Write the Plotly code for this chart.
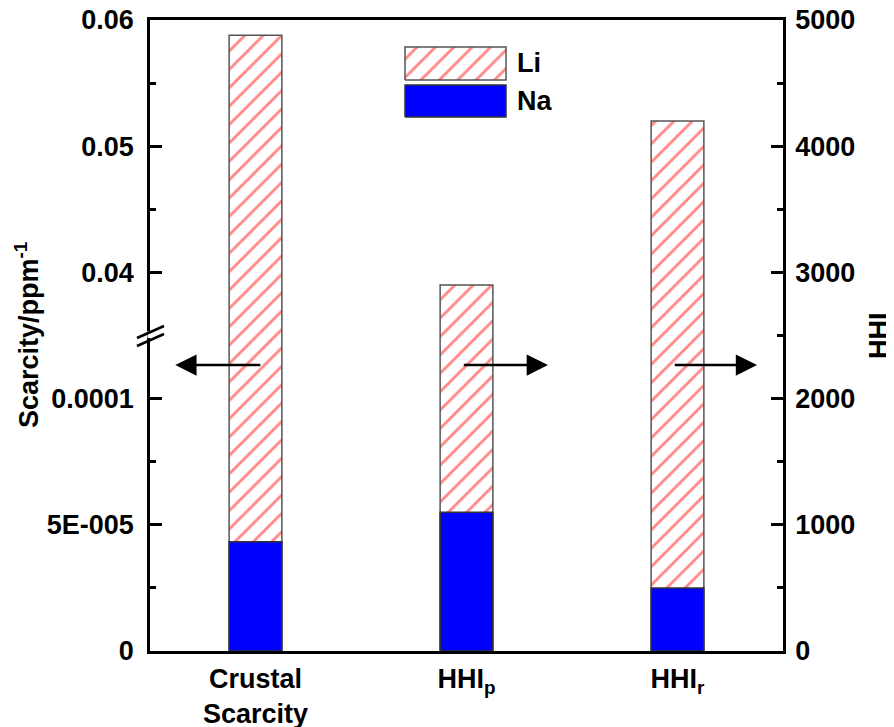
import plotly.graph_objects as go

categories = ["Crustal<br>Scarcity", "HHI<sub>p</sub>", "HHI<sub>r</sub>"]
# Crustal scarcity in ppm^-1 (left axis), HHI values (right axis)
li_values = [0.0588, 2900, 4200]
na_values = [4.33e-5, 1100, 500]

left_tick_vals = [0, 5e-5, 1e-4, 0.04, 0.05, 0.06]
left_tick_text = ["0", "5E-005", "0.0001", "0.04", "0.05", "0.06"]
right_tick_vals = [0, 1000, 2000, 3000, 4000, 5000]

FONT = "Arial, Liberation Sans, sans-serif"
FS = 27

W, H = 894, 727
OFF = 8  # page body margin offset
# plot area in screen pixels
L, R, T, B = 150, 783, 20, 651


def left_to_hhi(v):
    """Map the broken left scarcity axis onto the shared 0-5000 scale."""
    if v <= 1e-4:
        return v / 1e-4 * 2000
    return 3000 + (v - 0.04) / 0.01 * 1000


def shared(values):
    return [left_to_hhi(values[0])] + list(values[1:])


def px2paper(px, py):
    return (px - L) / (R - L), (B - py) / (B - T)


x = list(range(len(categories)))
li_y = shared(li_values)
na_y = shared(na_values)

HATCH = dict(shape="/", fgcolor="#ff1010", bgcolor="white", size=13, solidity=0.22)

fig = go.Figure()
fig.add_trace(go.Bar(
    x=x, y=li_y, width=0.25, name="Li",
    marker=dict(color="white", line=dict(color="#555555", width=1.5),
                pattern=dict(HATCH, fillmode="overlay")),
    showlegend=False,
))
fig.add_trace(go.Bar(
    x=x, y=na_y, width=0.25, name="Na",
    marker=dict(color="#0000ff", line=dict(color="#333333", width=1.5)),
    showlegend=False,
))

# legend patches on an overlay axis in plot-fraction units
lx0, ly_li1 = px2paper(405, 47)
lx1, ly_li0 = px2paper(506, 80)
_, ly_na1 = px2paper(405, 85)
_, ly_na0 = px2paper(405, 117)
fig.add_trace(go.Scatter(
    x=[lx0, lx1, lx1, lx0, lx0], y=[ly_li0, ly_li0, ly_li1, ly_li1, ly_li0],
    xaxis="x2", yaxis="y3", mode="lines", fill="toself",
    fillcolor="white", line=dict(color="#555555", width=1.5),
    fillpattern=HATCH, showlegend=False, hoverinfo="skip",
))
fig.add_trace(go.Scatter(
    x=[lx0, lx1, lx1, lx0, lx0], y=[ly_na0, ly_na0, ly_na1, ly_na1, ly_na0],
    xaxis="x2", yaxis="y3", mode="lines", fill="toself",
    fillcolor="#0000ff", line=dict(color="#333333", width=1.5),
    showlegend=False, hoverinfo="skip",
))

fig.add_trace(go.Scatter(x=[None], y=[None], yaxis="y2", showlegend=False))

tickfont = dict(family=FONT, size=FS, color="black")

fig.update_layout(
    width=W, height=H,
    margin=dict(l=L - OFF, r=W - R + OFF, t=T - OFF, b=H - B + OFF, pad=0),
    paper_bgcolor="white", plot_bgcolor="white",
    barmode="overlay",
    font=dict(family=FONT, size=FS, color="black"),
    xaxis=dict(
        range=[-0.5, 2.5], tickvals=x, ticktext=["<b>%s</b>" % c for c in categories],
        tickfont=tickfont, showgrid=False, zeroline=False, automargin=False,
        showline=True, linecolor="black", linewidth=2.5, mirror=True,
        ticks="", ticklabelstandoff=2, ticklabeloverflow="allow",
    ),
    yaxis=dict(
        range=[0, 5000], tickvals=[left_to_hhi(v) for v in left_tick_vals],
        ticktext=["<b>%s</b>" % t for t in left_tick_text],
        tickfont=tickfont, showgrid=False, zeroline=False, automargin=False,
        showline=True, linecolor="black", linewidth=2.5,
        ticks="inside", ticklen=12, tickwidth=2.5, tickcolor="black",
        minor=dict(tickvals=[500, 1500, 3500, 4500], ticks="inside", ticklen=6,
                   tickwidth=2.5, tickcolor="black"),
        ticklabelstandoff=8, ticklabeloverflow="allow",
    ),
    yaxis2=dict(
        range=[0, 5000], overlaying="y", side="right", automargin=False,
        tickvals=right_tick_vals, ticktext=["<b>%d</b>" % v for v in right_tick_vals],
        tickfont=tickfont, showgrid=False, zeroline=False,
        showline=True, linecolor="black", linewidth=2.5,
        ticks="inside", ticklen=12, tickwidth=2.5, tickcolor="black",
        minor=dict(dtick=500, ticks="inside", ticklen=6, tickwidth=2.5, tickcolor="black"),
        ticklabelstandoff=4, ticklabeloverflow="allow",
    ),
    xaxis2=dict(range=[0, 1], overlaying="x", visible=False),
    yaxis3=dict(range=[0, 1], overlaying="y", visible=False),
)

# axis titles
tx, ty = px2paper(27, 335)
fig.add_annotation(x=tx, y=ty, xref="paper", yref="paper", text="<b>Scarcity/ppm<sup>-1</sup></b>",
                   textangle=-90, showarrow=False, font=tickfont, xanchor="center", yanchor="middle")
tx, ty = px2paper(879, 336)
fig.add_annotation(x=tx, y=ty, xref="paper", yref="paper", text="<b>HHI</b>",
                   textangle=-90, showarrow=False, font=tickfont, xanchor="center", yanchor="middle")

# direction arrows
arrow_y = 2266
for head, tail in [(-0.38, 0.03), (1.386, 0.98), (2.377, 1.98)]:
    fig.add_annotation(x=head, y=arrow_y, ax=tail, ay=arrow_y, xref="x", yref="y",
                       axref="x", ayref="y", showarrow=True, arrowhead=2,
                       arrowsize=1.7, arrowwidth=2.5, arrowcolor="black", text="")

# legend text
tx, ty = px2paper(515, 63)
fig.add_annotation(x=tx, y=ty, xref="paper", yref="paper", text="<b>Li</b>",
                   showarrow=False, xanchor="left", yanchor="middle", font=tickfont)
tx, ty = px2paper(515, 101)
fig.add_annotation(x=tx, y=ty, xref="paper", yref="paper", text="<b>Na</b>",
                   showarrow=False, xanchor="left", yanchor="middle", font=tickfont)

# axis break marks
gx0, gy0 = px2paper(L, 338)
gx1, gy1 = px2paper(L, 331)
fig.add_shape(type="line", xref="paper", yref="paper", x0=gx0, y0=gy0, x1=gx1, y1=gy1,
              line=dict(color="white", width=5))
for off in (0, 8):
    a = px2paper(137, 338 + off)
    b = px2paper(164, 326 + off)
    fig.add_shape(type="line", xref="paper", yref="paper", x0=a[0], y0=a[1], x1=b[0], y1=b[1],
                  line=dict(color="black", width=2.5))

fig.write_html("out.html")
